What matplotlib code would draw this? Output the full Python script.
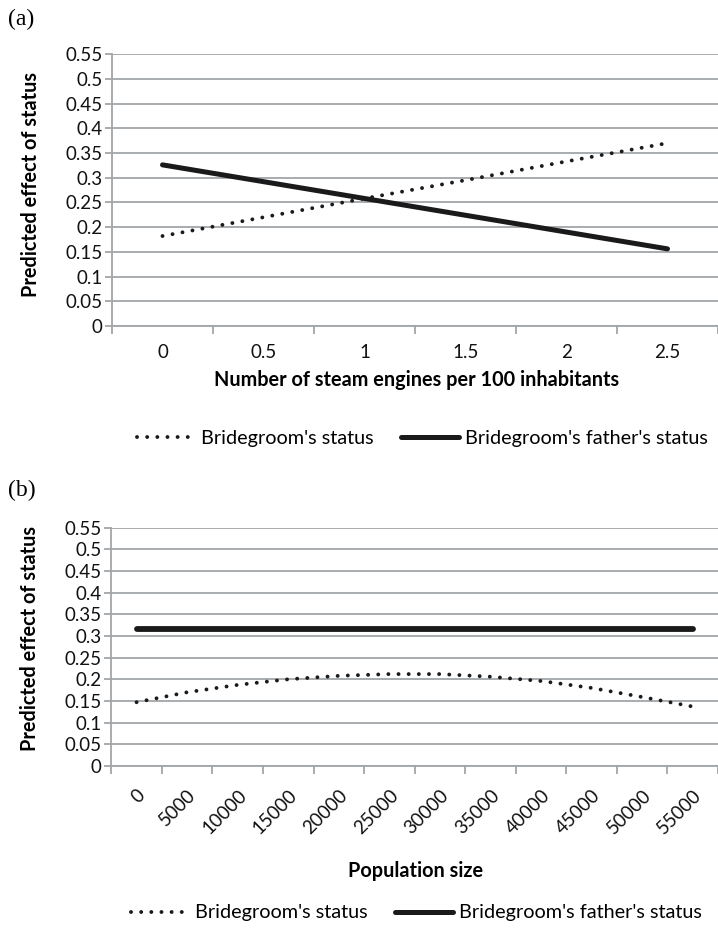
import matplotlib
matplotlib.use("Agg")
import matplotlib.pyplot as plt
from matplotlib.lines import Line2D

# panel (a): steam engines
engines = [0, 0.5, 1, 1.5, 2, 2.5]
groom_a = [0.182, 0.220, 0.258, 0.295, 0.333, 0.370]
father_a = [0.326, 0.292, 0.258, 0.224, 0.190, 0.156]

# panel (b): population size
population = [0, 5000, 10000, 15000, 20000, 25000, 30000, 35000, 40000, 45000, 50000, 55000]
groom_b = [0.147, 0.170, 0.187, 0.200, 0.208, 0.212, 0.212, 0.206, 0.196, 0.180, 0.159, 0.137]
father_b = [0.315] * 12

yticks = [0, 0.05, 0.1, 0.15, 0.2, 0.25, 0.3, 0.35, 0.4, 0.45, 0.5, 0.55]
ytick_labels = ["0", "0.05", "0.1", "0.15", "0.2", "0.25", "0.3", "0.35", "0.4", "0.45", "0.5", "0.55"]

plt.rcParams['font.family'] = ['Lato', 'DejaVu Sans']
GRID = "#a3a6a9"
INK = "#1a1a1a"
TS = 13.5   # tick labels
LS = 14.3   # axis labels / legend

fig = plt.figure(figsize=(7.18, 9.34), dpi=100)
ax_a = fig.add_axes([0.156, 0.651, 0.844, 0.291])
ax_b = fig.add_axes([0.155, 0.180, 0.845, 0.255])

dot_kw = dict(color=INK, lw=2.8, dashes=(0.01, 2.6), dash_capstyle="round")
solid_kw = dict(color=INK, lw=3.6, solid_capstyle="round")


def style(ax, cats, step, labels, rot):
    ax.set_ylim(0, 0.55)
    ax.set_yticks(yticks)
    ax.set_yticklabels(ytick_labels)
    ax.set_xlim(cats[0] - step / 2, cats[-1] + step / 2)
    ax.set_xticks(cats)
    ax.set_xticks([c - step / 2 for c in cats] + [cats[-1] + step / 2], minor=True)
    if rot:
        ax.set_xticklabels(labels, rotation=45, ha="right", rotation_mode="anchor")
    else:
        ax.set_xticklabels(labels)
    ax.grid(axis="y", color=GRID, lw=1.3)
    ax.set_axisbelow(True)
    for s in ["top", "right"]:
        ax.spines[s].set_visible(False)
    for s in ["left", "bottom"]:
        ax.spines[s].set_color(GRID)
        ax.spines[s].set_linewidth(1.3)
    ax.tick_params(axis="y", length=5, color=GRID, width=1.3, labelsize=TS, pad=2, labelcolor="#111111")
    ax.tick_params(axis="x", which="major", length=0, labelsize=TS, labelcolor="#111111")
    ax.tick_params(axis="x", which="minor", length=6, color=GRID, width=1.3)
    ax.set_ylabel("Predicted effect of status", fontsize=LS, fontweight="bold")


ax_a.plot(engines, groom_a, **dot_kw)
ax_a.plot(engines, father_a, **solid_kw)
style(ax_a, engines, 0.5, ["0", "0.5", "1", "1.5", "2", "2.5"], False)
ax_a.tick_params(axis="x", which="major", pad=13)
ax_a.yaxis.set_label_coords(-0.118, 0.52)

ax_b.plot(population, groom_b, **dot_kw)
ax_b.plot(population, father_b, color=INK, lw=4.2, solid_capstyle="round")
style(ax_b, population, 5000, [str(p) for p in population], True)
ax_b.tick_params(axis="x", which="major", pad=15)
ax_b.yaxis.set_label_coords(-0.118, 0.535)

fig.text(0.580, 0.593, "Number of steam engines per 100 inhabitants", ha="center", va="center",
         fontsize=LS, fontweight="bold")
fig.text(0.579, 0.067, "Population size", ha="center", va="center", fontsize=LS, fontweight="bold")

fig.text(0.011, 0.979, "(a)", family="Liberation Serif", fontsize=17, va="center")
fig.text(0.011, 0.475, "(b)", family="Liberation Serif", fontsize=17, va="center")

handles = [Line2D([], [], **dot_kw), Line2D([], [], **solid_kw)]
names = ["Bridegroom's status", "Bridegroom's father's status"]
fig.legend(handles, names, loc="center", bbox_to_anchor=(0.588, 0.531), ncol=2, frameon=False,
           fontsize=LS, handlelength=2.9, handletextpad=0.3, columnspacing=1.4)
fig.legend(handles, names, loc="center", bbox_to_anchor=(0.580, 0.0225), ncol=2, frameon=False,
           fontsize=LS, handlelength=2.9, handletextpad=0.3, columnspacing=1.4)

fig.savefig("out.png", dpi=100)
